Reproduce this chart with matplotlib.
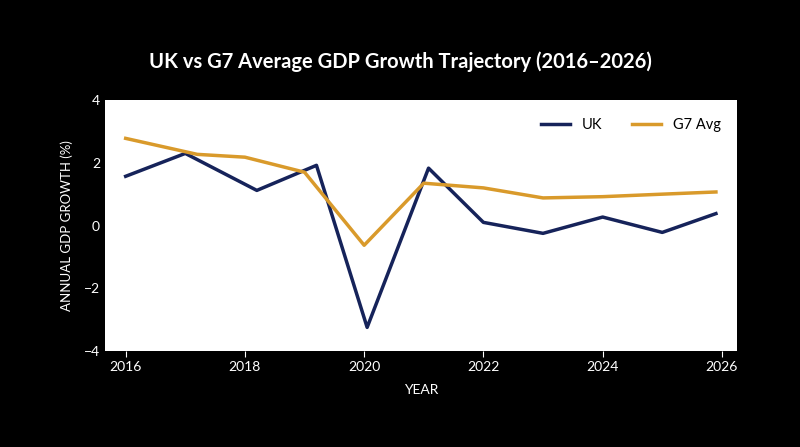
import matplotlib.pyplot as plt

# data
uk_years = [2016.0, 2017.0, 2018.2, 2019.2, 2020.05, 2021.08, 2022.0, 2023.0, 2024.0, 2025.0, 2025.9]
uk_growth = [1.57, 2.3, 1.12, 1.92, -3.25, 1.83, 0.1, -0.25, 0.27, -0.22, 0.38]

g7_years = [2016.0, 2017.2, 2018.0, 2019.0, 2020.0, 2021.0, 2022.0, 2023.0, 2024.0, 2025.0, 2025.9]
g7_growth = [2.78, 2.27, 2.18, 1.7, -0.63, 1.35, 1.2, 0.88, 0.92, 1.0, 1.07]

plt.rcParams['font.family'] = ['Lato', 'DejaVu Sans']

fig = plt.figure(figsize=(8, 4.47), dpi=100, facecolor='black')
ax = fig.add_axes([0.131, 0.215, 0.79, 0.561])
ax.set_facecolor('white')

ax.plot(uk_years, uk_growth, color='#16235a', lw=2.5, label='UK')
ax.plot(g7_years, g7_growth, color='#d99a2b', lw=2.5, label='G7 Avg')

ax.set_xlim(2015.65, 2026.25)
ax.set_ylim(-4, 4)
ax.set_xticks(range(2016, 2027, 2))
ax.set_yticks([-4, -2, 0, 2, 4])

for s in ax.spines.values():
    s.set_visible(False)
ax.tick_params(colors='white', labelsize=10, length=4)
ax.tick_params(axis='y', length=0)

ax.set_xlabel('YEAR', color='white', fontsize=10, labelpad=8)
ax.set_ylabel('ANNUAL GDP GROWTH (%)', color='white', fontsize=9.5, labelpad=8)

fig.suptitle('UK vs G7 Average GDP Growth Trajectory (2016\u20132026)',
             color='white', fontsize=14.5, fontweight='bold', y=0.885)

leg = ax.legend(loc='upper right', ncol=2, frameon=False, fontsize=10.5,
                handlelength=2, columnspacing=2, bbox_to_anchor=(0.995, 0.98))

fig.savefig('out.png', dpi=100, facecolor='black')
